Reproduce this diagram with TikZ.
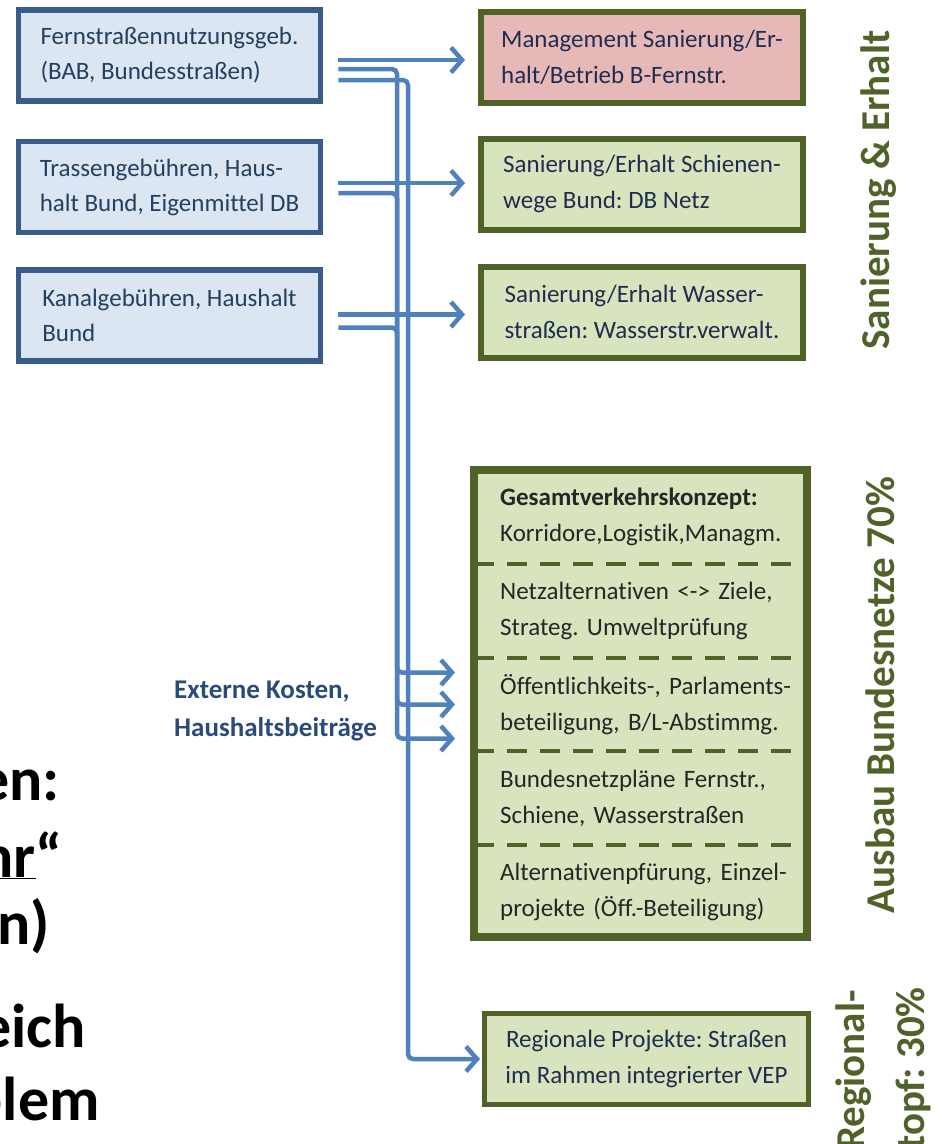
\documentclass[tikz,border=0pt]{standalone}
\usepackage{fontspec}
\setmainfont{Carlito}[Ligatures=NoCommon]
\usepackage{tikz}
\usetikzlibrary{arrows.meta, positioning}
\frenchspacing

\definecolor{srcborder}{HTML}{385D8A}
\definecolor{srcfill}{HTML}{DCE6F2}
\definecolor{srctext}{HTML}{243F60}
\definecolor{tgtborder}{HTML}{4F6228}
\definecolor{tgtfill}{HTML}{D7E4BD}
\definecolor{mgmtfill}{HTML}{E6B9B8}
\definecolor{tgttext}{HTML}{1F2D50}
\definecolor{fundblue}{HTML}{4F81BD}
\definecolor{extblue}{HTML}{2A4A7C}

\begin{document}
\begin{tikzpicture}[
    x=1pt, y=-1pt,
    srcbox/.style={draw=srcborder, line width=5.5pt, fill=srcfill, minimum width=302pt, minimum height=91pt, align=left, text=srctext, font=\fontsize{25}{35}\selectfont},
    tgtbox/.style={draw=tgtborder, line width=6pt, fill=tgtfill, minimum width=322pt, minimum height=91pt, align=left, text=tgttext, font=\fontsize{25}{36}\selectfont},
    planbox/.style={draw=tgtborder, line width=8pt, fill=tgtfill, minimum width=333pt, minimum height=467pt, outer sep=0pt},
    sect/.style={text width=300pt, inner sep=0pt, minimum height=93.4pt, align=left, text=black!85, font=\fontsize{25}{36}\selectfont},
    sepline/.style={draw=tgtborder, line width=4pt, dash pattern=on 20pt off 13pt},
    fund/.style={draw=fundblue, line width=4.5pt, rounded corners=5pt, -{Straight Barb[length=11pt,width=25pt]}, shorten <=15pt, shorten >=13pt},
    sidelabel/.style={rotate=90, inner sep=0pt, text=tgtborder, font=\bfseries\fontsize{41}{60}\selectfont},
    frag/.style={anchor=base east, inner sep=0pt, font=\bfseries\fontsize{62}{62}\selectfont}
]
\clip (0,0) rectangle (942,1144);
\fill [white] (0,0) rectangle (942,1144);

\node (src1) [srcbox] at (169.5,55.5) {Fernstraßennutzungsgeb.\\(BAB, Bundesstraßen)};
\node (src2) [srcbox, below=35pt of src1] {Trassengebühren, Haus-\\halt Bund, Eigenmittel DB};
\node (src3) [srcbox, below=32pt of src2] {Kanalgebühren, Haushalt\\Bund};

\node (tgt1) [tgtbox, fill=mgmtfill] at (642,57) {Management Sanierung/Er-\\halt/Betrieb B-Fernstr.};
\node (tgt2) [tgtbox, below=30pt of tgt1] {Sanierung/Erhalt Schienen-\\wege Bund: DB Netz};
\node (tgt3) [tgtbox, below=31pt of tgt2] {Sanierung/Erhalt Wasser-\\straßen: Wasserstr.verwalt.};

\node (plan) [planbox] at (640.5,703.5) {};
\node (s1) [sect, anchor=north west] at ([xshift=26pt]plan.north west) {\textbf{Gesamtverkehrskonzept:}\\Korridore,Logistik,Managm.};
\node (s2) [sect, below=0pt of s1] {Netzalternativen <-> Ziele,\\Strateg. Umweltprüfung};
\node (s3) [sect, below=0pt of s2] {Öffentlichkeits-, Parlaments-\\beteiligung, B/L-Abstimmg.};
\node (s4) [sect, below=0pt of s3] {Bundesnetzpläne Fernstr.,\\Schiene, Wasserstraßen};
\node (s5) [sect, below=0pt of s4] {Alternativenpfürung, Einzel-\\projekte (Öff.-Beteiligung)};
\draw [sepline] (plan.west |- s1.south) -- (plan.east |- s1.south);
\draw [sepline] (plan.west |- s2.south) -- (plan.east |- s2.south);
\draw [sepline] (plan.west |- s3.south) -- (plan.east |- s3.south);
\draw [sepline] (plan.west |- s4.south) -- (plan.east |- s4.south);

\node (tgt5) [tgtbox, line width=5pt, minimum width=324pt, align=center] at (646.5,1059) {Regionale Projekte: Straßen\\im Rahmen integrierter VEP};

\node (ext) [anchor=west, inner sep=0pt, align=left, text=extblue, font=\bfseries\fontsize{27}{38}\selectfont] at (174,711) {Externe Kosten,\\Haushaltsbeiträge};

\node (lblerhalt) [sidelabel] at (879,190) {Sanierung \& Erhalt};
\node (lblausbau) [sidelabel] at (880,695) {Ausbau Bundesnetze 70\%};
\node (lblregio) [sidelabel, align=left, anchor=north west] at (836,1150) {Regional-\\topf: 30\%};

\node (f1) [frag] at (60,800) {en:};
\node (f2) [frag] at (63,877) {\underline{hr}“};
\node (f3) [frag] at (50,944) {n)};
\node (f4) [frag] at (86,1047) {eich};
\node (f5) [frag] at (100,1120) {blem};

\coordinate (busa) at (397,0);
\coordinate (busb) at (408,0);
\coordinate (f1a) at ([yshift=-4.5pt]src1.east);
\coordinate (f1b) at ([yshift=-13.5pt]src1.east);
\coordinate (f1c) at ([yshift=-24.5pt]src1.east);
\coordinate (f2a) at ([yshift=4pt]src2.east);
\coordinate (f2b) at ([yshift=-6pt]src2.east);
\coordinate (f3a) at ([yshift=1pt]src3.east);
\coordinate (f3b) at ([yshift=-12pt]src3.east);
\coordinate (in2) at (plan.west |- s3.center);
\coordinate (in1) at ([yshift=32pt]in2);
\coordinate (in3) at ([yshift=-34pt]in2);

\draw [fund] (f1a) -- (f1a -| tgt1.west);
\draw [fund] (f2a) -- (f2a -| tgt2.west);
\draw [fund] (f3a) -- (f3a -| tgt3.west);
\draw [fund, shorten >=19pt] (f1b) -| (busa |- in3) -- (in3);
\draw [fund, shorten >=19pt] (f2b) -| (busa |- in2) -- (in2);
\draw [fund, shorten >=19pt] (f3b) -| (busa |- in1) -- (in1);
\draw [fund, shorten >=2pt] (f1c) -| (busb |- tgt5.west) -- (tgt5.west);

\end{tikzpicture}
\end{document}
